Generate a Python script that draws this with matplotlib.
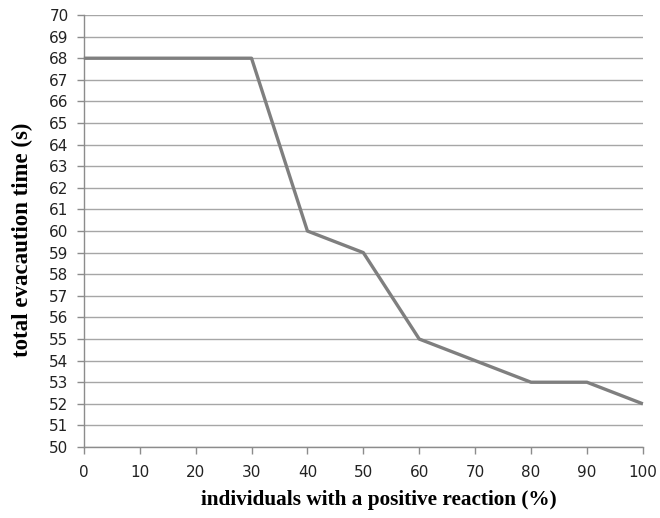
import matplotlib
matplotlib.use('Agg')
import matplotlib.pyplot as plt

# === Data ===
reaction_pct = [0, 10, 20, 30, 40, 50, 60, 70, 80, 90, 100]
evac_time = [68, 68, 68, 68, 60, 59, 55, 54, 53, 53, 52]

fig = plt.figure(figsize=(6.6, 5.18), dpi=100)
ax = fig.add_axes([0.127, 0.137, 0.847, 0.834])

ax.plot(reaction_pct, evac_time, color='#7f7f7f', linewidth=2.4, zorder=3,
        solid_capstyle='butt', clip_on=False)

ax.set_xlim(0, 100)
ax.set_ylim(50, 70)
ax.set_xticks(range(0, 101, 10))
ax.set_yticks(range(50, 71))
ax.yaxis.grid(True, color='#a6a6a6', linewidth=1.0)
ax.set_axisbelow(True)

for side in ['top', 'right']:
    ax.spines[side].set_visible(False)
for side in ['left', 'bottom']:
    ax.spines[side].set_color('#8c8c8c')
    ax.spines[side].set_linewidth(1.0)

ax.tick_params(axis='both', colors='#8c8c8c', labelcolor='#222222',
               labelsize=11, length=5, width=1.0)
ax.tick_params(axis='x', pad=8)
ax.tick_params(axis='y', pad=6)

ax.set_xlabel('individuals with a positive reaction (%)', family='Liberation Serif',
              fontweight='bold', fontsize=15.3)
ax.set_ylabel('total evacaution time (s)', family='Liberation Serif',
              fontweight='bold', fontsize=16.5)
ax.xaxis.set_label_coords(0.528, -0.100)
ax.yaxis.set_label_coords(-0.090, 0.479)

fig.savefig('out.png', dpi=100)
